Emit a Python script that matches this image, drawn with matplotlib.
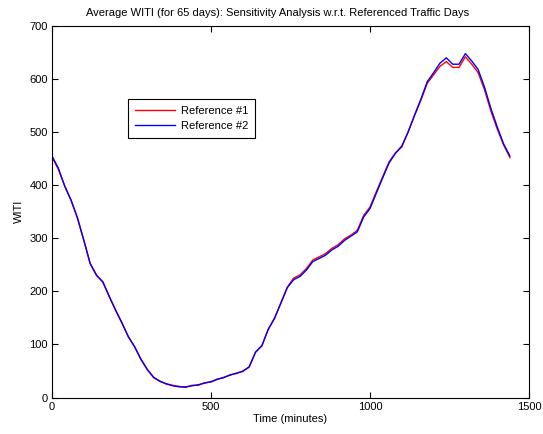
import matplotlib
matplotlib.use("Agg")
import matplotlib.pyplot as plt

plt.rcParams['font.family'] = ['Liberation Sans', 'DejaVu Sans']

minutes = list(range(0, 1441, 20))

ref2 = [455, 432, 398, 372, 338, 296, 252, 230, 218, 190,
        165, 140, 115, 95, 72, 52, 38, 30, 26, 22,
        20, 20, 22, 24, 27, 30, 34, 38, 42, 46,
        49, 58, 85, 98, 128, 150, 178, 207, 222, 228,
        240, 256, 262, 268, 278, 285, 296, 304, 312, 340,
        356, 385, 414, 442, 460, 474, 500, 532, 562, 595,
        612, 630, 640, 628, 628, 648, 634, 618, 585, 545,
        510, 478, 455]

ref1 = [453, 430, 399, 371, 339, 297, 253, 231, 217, 191,
        164, 141, 114, 96, 71, 53, 37, 31, 25, 23,
        21, 19, 23, 23, 28, 29, 35, 37, 43, 45,
        50, 57, 86, 97, 129, 149, 179, 208, 225, 231,
        243, 259, 265, 271, 281, 288, 299, 306, 315, 343,
        359, 388, 416, 444, 461, 472, 501, 531, 560, 592,
        608, 624, 633, 622, 622, 642, 628, 612, 580, 540,
        506, 476, 452]

fig = plt.figure(figsize=(5.43, 4.34), dpi=100)
ax = fig.add_axes([52/543, 1 - 397.5/434, 477/543, 371.5/434])

ax.plot(minutes, ref1, color='#ff0000', lw=1.0, label='Reference #1')
ax.plot(minutes, ref2, color='#0000ff', lw=1.0, label='Reference #2')

ax.set_xlim(0, 1500)
ax.set_ylim(0, 700)
ax.set_xticks([0, 500, 1000, 1500])
ax.set_yticks(range(0, 701, 100))
ax.tick_params(direction='in', length=4, top=True, right=True, labelsize=8, pad=3)
for s in ax.spines.values():
    s.set_linewidth(0.8)

ax.set_title('Average WITI (for 65 days): Sensitivity Analysis w.r.t. Referenced Traffic Days',
             fontsize=8, pad=7, x=0.472)
ax.set_xlabel('Time (minutes)', fontsize=8, labelpad=2)
ax.set_ylabel('WITI', fontsize=8, labelpad=4)

leg = ax.legend(loc='upper left', bbox_to_anchor=(0.159, 0.803), borderaxespad=0,
                fontsize=8, frameon=True, fancybox=False, edgecolor='black', framealpha=1,
                handlelength=3.6, borderpad=0.6, labelspacing=0.45, handletextpad=0.6)
leg.get_frame().set_linewidth(0.8)

fig.savefig('out.png', dpi=100)
